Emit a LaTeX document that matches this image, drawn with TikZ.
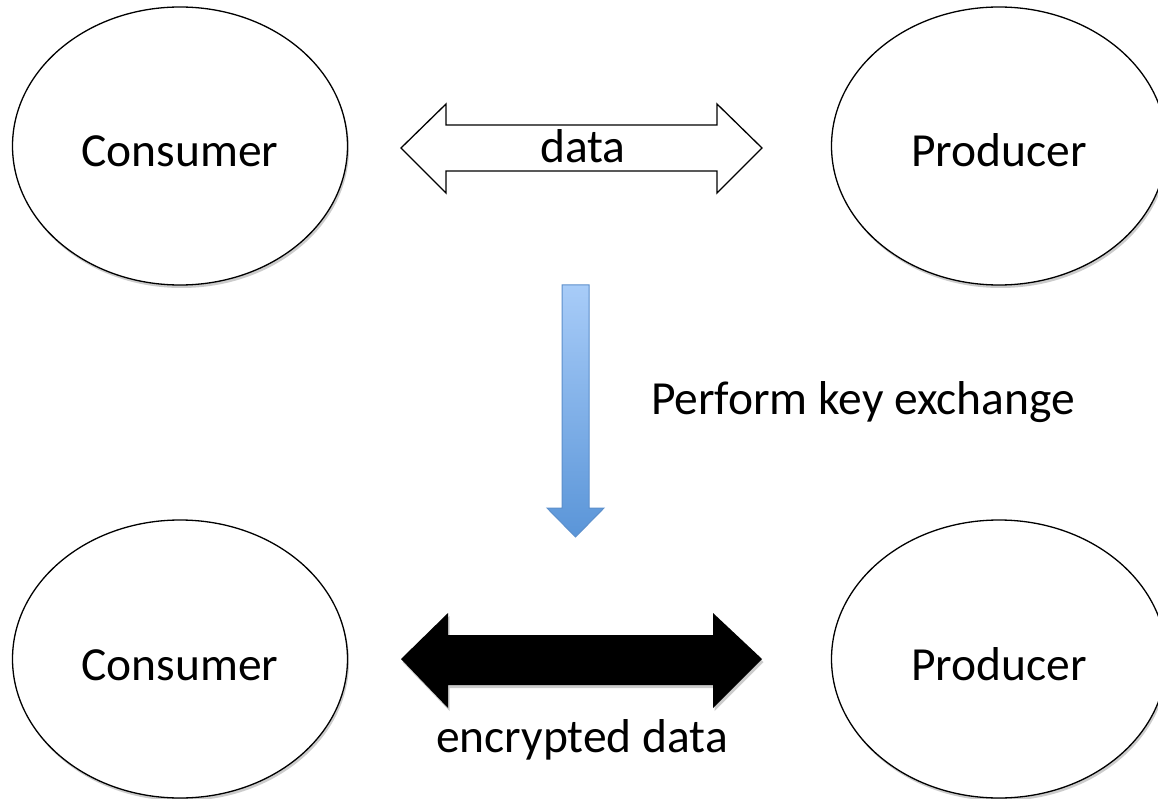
\documentclass[tikz,border=0pt]{standalone}
\usepackage{fontspec}
\setmainfont{Carlito}
\usetikzlibrary{shapes.geometric,shadows}
\definecolor{bluetop}{HTML}{A8CCF8}
\definecolor{bluebot}{HTML}{5A95D8}
\definecolor{blueedge}{HTML}{5C8FCB}
\begin{document}
\begin{tikzpicture}[x=1pt,y=-1pt,
  party/.style={ellipse, draw=black, line width=1.3pt, fill=white,
    minimum width=335pt, minimum height=278pt, inner sep=0pt,
    text height=42pt, text depth=0pt,
    font=\fontsize{47.5}{56}\selectfont,
    drop shadow={shadow xshift=1.5pt, shadow yshift=-3pt, opacity=0.2, fill=black}},
  lbl/.style={inner sep=0pt, font=\fontsize{47.5}{56}\selectfont},
  hollowarrow/.style={draw=black, line width=1.3pt, fill=white, line join=miter},
  solidarrow/.style={fill=black,
    drop shadow={shadow xshift=1.5pt, shadow yshift=-3pt, opacity=0.2, fill=black}},
  keyarrow/.style={top color=bluetop, bottom color=bluebot, draw=blueedge, line width=1pt}
]
\useasboundingbox (0,0) rectangle (1158,799);
\clip (0,0) rectangle (1158,799);

% top row
\node[party] (c1) at (180,146) {Consumer};
\node[party] (p1) at (999,146) {Producer};
\draw[hollowarrow] (401,148) -- (446,104) -- (446,125) -- (717,125) -- (717,104)
  -- (762,148) -- (717,193) -- (717,171) -- (446,171) -- (446,193) -- cycle;
\node[lbl] (d1) at (583,146) {data};

% key exchange arrow
\path[keyarrow] (562,285) -- (589,285) -- (589,508) -- (604,508) -- (575.5,537)
  -- (547,508) -- (562,508) -- cycle;
\node[lbl] (kx) at (863,402) {Perform key exchange};

% bottom row
\node[party] (c2) at (180,659) {Consumer};
\node[party] (p2) at (999,659) {Producer};
\path[solidarrow] (401,659) -- (448,613) -- (448,635) -- (713,635) -- (713,613)
  -- (762,659) -- (713,708) -- (713,685) -- (448,685) -- (448,708) -- cycle;
\node[lbl] (d2) at (582,740) {encrypted data};
\end{tikzpicture}
\end{document}
